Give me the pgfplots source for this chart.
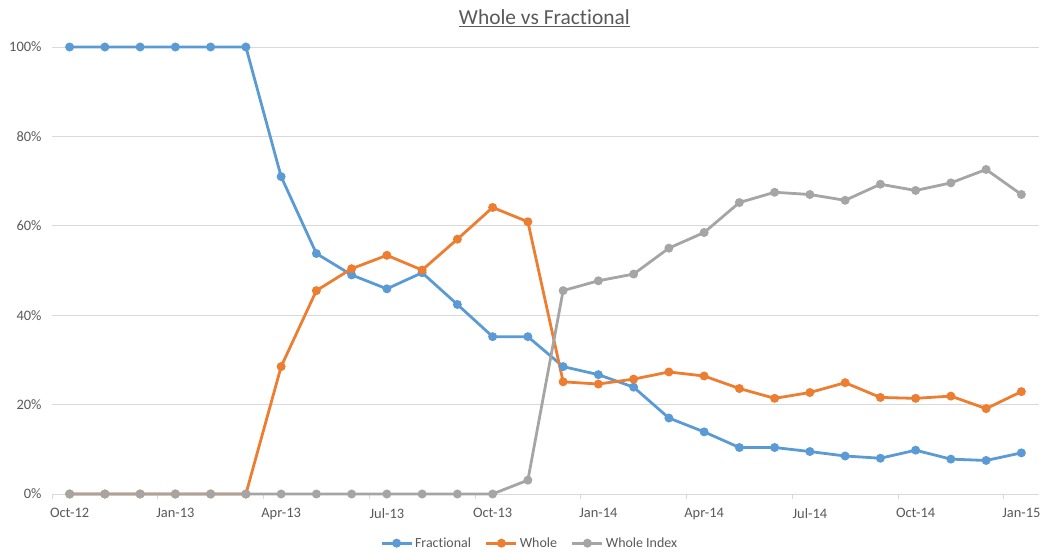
\documentclass[border=0pt]{standalone}
\usepackage{fontspec}
\setmainfont{Carlito}[Ligatures=NoCommon]
\usepackage{pgfplots}
\pgfplotsset{compat=1.18}
\usetikzlibrary{calc}
\definecolor{cblue}{HTML}{5B9BD5}
\definecolor{corange}{HTML}{ED7D31}
\definecolor{cgray}{HTML}{A5A5A5}
\definecolor{ctext}{HTML}{595959}
\definecolor{cgrid}{HTML}{D9D9D9}
\begin{document}
\begin{tikzpicture}
\begin{axis}[
  name=ax,
  scale only axis,
  width=987bp, height=447bp,
  xmin=-0.5, xmax=27.5,
  ymin=0, ymax=100,
  axis line style={draw=none},
  axis x line*=bottom,
  axis y line*=left,
  xtick={0,3,...,27},
  xticklabels={Oct-12,Jan-13,Apr-13,Jul-13,Oct-13,Jan-14,Apr-14,Jul-14,Oct-14,Jan-15},
  minor xtick={-0.5,2.5,...,26.5},
  major tick length=0pt,
  minor tick length=5bp,
  tick align=outside,
  minor tick style={cgrid, line width=0.8bp},
  ytick={0,20,...,100},
  yticklabels={0\%,20\%,40\%,60\%,80\%,100\%},
  ymajorgrids,
  grid style={cgrid, line width=0.8bp},
  tick label style={font=\fontsize{14.5}{17}\selectfont, text=ctext},
  /pgf/number format/assume math mode=true,
  xticklabel style={yshift=-11bp},
  yticklabel style={xshift=-7bp},
  legend style={at={(0.484,-0.11)}, anchor=center, draw=none, legend columns=-1,
    font=\fontsize{14}{16}\selectfont, text=ctext,
    /tikz/every even column/.append style={column sep=12bp}},
  legend image code/.code={
    \draw[#1, mark repeat=2, mark phase=2] plot coordinates {(0bp,0bp) (15bp,0bp) (30bp,0bp)};},
  every axis plot/.append style={line width=2.8bp, mark=*, mark size=3bp},
  clip=false,
]
\draw[cgrid, line width=0.8bp] (axis cs:-0.5,0) -- (axis cs:27.5,0);
\addplot[cblue, mark options={fill=cblue, draw=cblue}] coordinates {
(0,100)(1,100)(2,100)(3,100)(4,100)(5,100)(6,71.0)(7,53.8)(8,49.0)(9,45.9)
(10,49.5)(11,42.4)(12,35.2)(13,35.2)(14,28.5)(15,26.7)(16,23.9)(17,17.0)(18,13.9)(19,10.4)
(20,10.4)(21,9.5)(22,8.5)(23,8.0)(24,9.8)(25,7.8)(26,7.5)(27,9.2)};
\addlegendentry{Fractional}
\addplot[corange, mark options={fill=corange, draw=corange}] coordinates {
(0,0)(1,0)(2,0)(3,0)(4,0)(5,0)(6,28.5)(7,45.5)(8,50.4)(9,53.4)
(10,50.1)(11,57.0)(12,64.1)(13,60.9)(14,25.1)(15,24.6)(16,25.7)(17,27.3)(18,26.4)(19,23.6)
(20,21.4)(21,22.7)(22,24.9)(23,21.6)(24,21.4)(25,21.9)(26,19.1)(27,22.9)};
\addlegendentry{Whole}
\addplot[cgray, mark options={fill=cgray, draw=cgray}] coordinates {
(0,0)(1,0)(2,0)(3,0)(4,0)(5,0)(6,0)(7,0)(8,0)(9,0)
(10,0)(11,0)(12,0)(13,3.1)(14,45.5)(15,47.7)(16,49.2)(17,55.0)(18,58.5)(19,65.2)
(20,67.5)(21,67.0)(22,65.7)(23,69.3)(24,67.9)(25,69.6)(26,72.6)(27,67.0)};
\addlegendentry{Whole Index}
\node[font=\fontsize{21.5}{25}\selectfont, text=ctext] at ($(rel axis cs:0.481,1)+(0,29bp)$) {\underline{Whole vs Fractional}};
\end{axis}
\pgfresetboundingbox
\path[use as bounding box] ($(ax.south west)+(-52bp,-58bp)$) rectangle ($(ax.north east)+(5bp,47bp)$);
\end{tikzpicture}
\end{document}
